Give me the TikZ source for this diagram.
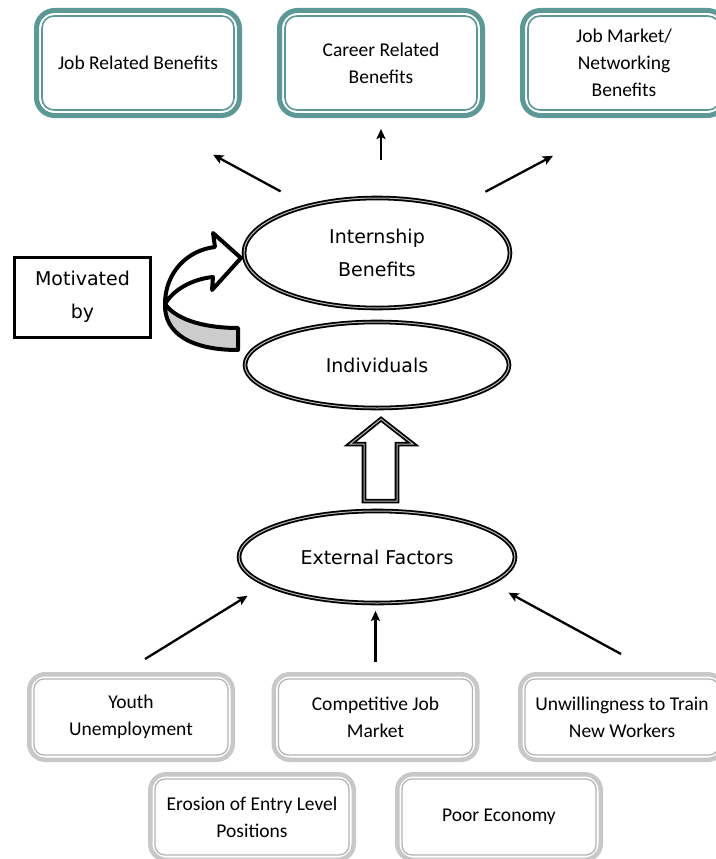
\documentclass[tikz,border=0pt]{standalone}
\usepackage{fontspec}
\setmainfont{Carlito}
\newfontfamily\ovalfamily{DejaVu Sans}
\usepackage{tikz}
\usetikzlibrary{positioning}
\usetikzlibrary{shapes.geometric}
\usetikzlibrary{arrows.meta}
\usepackage{xcolor}
\definecolor{tealline}{RGB}{91,152,150}
\definecolor{greyline}{RGB}{200,200,200}
\newcommand{\boxfont}{\fontsize{19.5}{27}\selectfont}
\newcommand{\ovalfont}{\ovalfamily\fontsize{19}{33}\selectfont}

\begin{document}
\begin{tikzpicture}[x=1pt, y=-1pt,
    tbox/.style={draw=tealline, line width=5pt, rounded corners=18pt, minimum width=203pt, minimum height=105pt, align=center, font=\boxfont},
    gbox/.style={draw=greyline, line width=4.5pt, rounded corners=16pt, minimum width=203.5pt, minimum height=85.5pt, align=center, font=\boxfont},
    oval/.style={ellipse, draw, line width=1.8pt, double=gray!55, double distance=1pt, inner sep=0pt, align=center, font=\ovalfont},
    mbox/.style={draw, line width=3pt, minimum width=136pt, minimum height=80pt, align=center, font=\ovalfont},
    conn/.style={-{Stealth[length=10pt, width=9pt, inset=2pt]}, line width=2.3pt},
    blockarr/.style={draw, line width=1.8pt, double=gray!55, double distance=1pt, fill=white}]
    \useasboundingbox (0,0) rectangle (715,859);

    % Benefit boxes
    \node[tbox] (b1) at (138,63) {Job Related Benefits};
    \node[tbox] (b2) at (381,63) {Career Related\\Benefits};
    \node[tbox] (b3) at (624,63) {Job Market/\\Networking\\Benefits};
    \foreach \nm in {b1,b2,b3} {
        \draw[tealline, line width=1.6pt, rounded corners=12pt] ([shift={(8,8)}]\nm.north west) rectangle ([shift={(-8,-8)}]\nm.south east);
    }

    % Ovals
    \node[oval, minimum width=266pt, minimum height=110pt] (ib) at (377,253) {Internship\\Benefits};
    \node[oval, minimum width=264pt, minimum height=86pt] (iv) at (377,365) {Individuals};
    \node[oval, minimum width=276pt, minimum height=92pt] (ef) at (377,557) {External Factors};

    \node[mbox] (mb) at (82.5,297) {Motivated\\by};

    % Factor boxes
    \node[gbox] (yu) at (131,717) {Youth\\Unemployment};
    \node[gbox] (cj) at (375.5,717) {Competitive Job\\Market};
    \node[gbox] (uw) at (622,717) {Unwillingness to Train\\New Workers};
    \node[gbox] (er) at (252,817) {Erosion of Entry Level\\Positions};
    \node[gbox] (pe) at (499,817) {Poor Economy};
    \foreach \nm in {yu,cj,uw,er,pe} {
        \draw[greyline!90!black, line width=1.3pt, rounded corners=10pt] ([shift={(7,7)}]\nm.north west) rectangle ([shift={(-7,-7)}]\nm.south east);
    }

    % Arrows to benefits
    \draw[conn, shorten <=29.5pt, shorten >=77pt] (ib.146) -- ([xshift=7.5pt]b1.south);
    \draw[conn, shorten <=37pt, shorten >=11pt] (ib.north -| b2.south) -- (b2.south);
    \draw[conn, shorten <=34pt, shorten >=80.5pt] (ib.30) -- (b3.south);

    % Arrows from factors
    \draw[conn, shorten <=24.7pt, shorten >=20.9pt] ([xshift=-7pt]yu.north) -- (ef.194);
    \draw[conn, shorten <=10pt, shorten >=7pt] (cj.north) -- (cj.north |- ef.south);
    \draw[conn, shorten <=37.6pt, shorten >=19.2pt] ([xshift=32pt]uw.north) -- (ef.-13);

    % Hollow arrow up
    \begin{scope}[shift={(ef.north)}]
        \draw[blockarr] (-13,-9) -- (-13,-66) -- (-27,-66) -- (4,-91) -- (36,-66) -- (20,-66) -- (20,-9) -- cycle;
    \end{scope}

    % Curved arrow
    \draw[line width=4pt, fill=gray!40, line join=round] (165,304) .. controls (178,322) and (210,328) .. (238,328) -- (238,350) .. controls (192,350) and (164,334) .. (165,304) -- cycle;
    \draw[line width=4pt, fill=white, line join=round] (165,304) .. controls (165,272) and (188,250) .. (215,247) -- (213,233) -- (241,258) -- (212,290) -- (213,277) .. controls (192,279) and (173,290) .. (165,304) -- cycle;
\end{tikzpicture}
\end{document}
